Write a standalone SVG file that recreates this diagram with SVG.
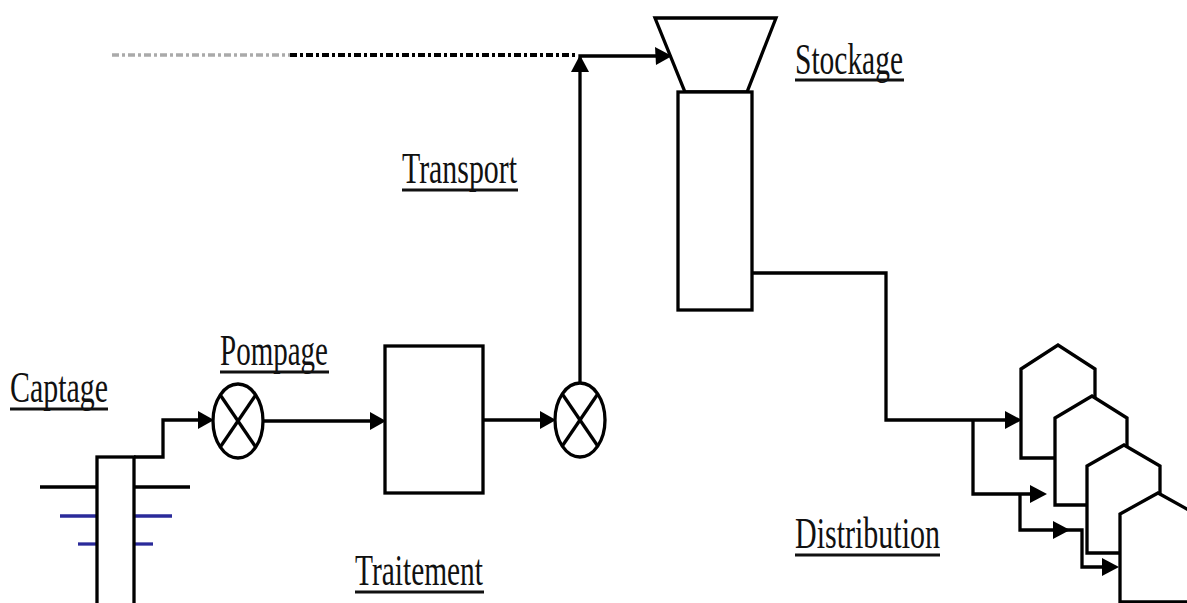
<svg xmlns="http://www.w3.org/2000/svg" width="1187" height="603" viewBox="0 0 1187 603">
<style>
.s{fill:none;stroke:#000;stroke-width:3.3;stroke-linejoin:miter}
.w{fill:#fff;stroke:#000;stroke-width:3.3}
.ah{fill:#000;stroke:none}
.t{font-family:"Liberation Serif","Times New Roman",serif;font-size:44px;fill:#111}
.u{stroke:#111;stroke-width:2.8}
.blue{stroke:#2a2a9a;stroke-width:3.3}
</style>
<rect width="1187" height="603" fill="#fff"/>

<g id="captage">
  <line class="s" x1="40" y1="487" x2="97" y2="487"/>
  <line class="s" x1="134" y1="487" x2="190" y2="487"/>
  <line class="blue" x1="60" y1="516" x2="97" y2="516"/>
  <line class="blue" x1="134" y1="516" x2="172" y2="516"/>
  <line class="blue" x1="78" y1="544" x2="97" y2="544"/>
  <line class="blue" x1="134" y1="544" x2="153" y2="544"/>
  <rect class="w" x="97" y="457" width="37" height="160"/>
  <text class="t" x="10" y="402" textLength="98" lengthAdjust="spacingAndGlyphs">Captage</text>
  <line class="u" x1="10" y1="409" x2="108" y2="409"/>
</g>

<g id="pompage">
  <ellipse class="w" cx="238" cy="421" rx="25" ry="37"/>
  <line class="s" x1="220.3" y1="395" x2="255.7" y2="447"/>
  <line class="s" x1="255.7" y1="395" x2="220.3" y2="447"/>
  <text class="t" x="220" y="365" textLength="108" lengthAdjust="spacingAndGlyphs">Pompage</text>
  <line class="u" x1="220" y1="372" x2="329" y2="372"/>
</g>

<g id="traitement">
  <rect class="w" x="385" y="346" width="98" height="147"/>
  <text class="t" x="355" y="585" textLength="128" lengthAdjust="spacingAndGlyphs">Traitement</text>
  <line class="u" x1="355" y1="592" x2="484" y2="592"/>
</g>

<g id="pompe2">
  <ellipse class="w" cx="580" cy="420" rx="25" ry="37"/>
  <line class="s" x1="562.3" y1="394" x2="597.7" y2="446"/>
  <line class="s" x1="597.7" y1="394" x2="562.3" y2="446"/>
</g>

<g id="transport">
  <text class="t" x="402" y="183" textLength="115" lengthAdjust="spacingAndGlyphs">Transport</text>
  <line class="u" x1="402" y1="190" x2="518" y2="190"/>
</g>

<g id="stockage">
  <polygon class="w" points="655,18 776,18 747,92 685,92"/>
  <rect class="w" x="678" y="92" width="74" height="218"/>
  <text class="t" x="795" y="74" textLength="108" lengthAdjust="spacingAndGlyphs">Stockage</text>
  <line class="u" x1="795" y1="80" x2="904" y2="80"/>
</g>

<g id="distribution">
  <polygon class="w" points="1021,458 1021,369 1058,345 1095,369 1095,458"/>
  <polygon class="w" points="1055,505 1055,418 1092,396 1127,418 1127,505"/>
  <polygon class="w" points="1087,553 1087,466 1124,445 1160,466 1160,553"/>
  <polygon class="w" points="1120,602 1120,514 1158,493 1196,514 1196,602"/>
  <text class="t" x="795" y="548" textLength="145" lengthAdjust="spacingAndGlyphs">Distribution</text>
  <line class="u" x1="795" y1="555" x2="940" y2="555"/>
</g>

<g id="connectors">
  <line x1="112" y1="55" x2="290" y2="55" stroke="#aaa" stroke-width="3.5" stroke-dasharray="7 3 3 3"/>
  <line x1="290" y1="55" x2="578" y2="55" stroke="#000" stroke-width="3.8" stroke-dasharray="7 3 3 3"/>
  <path class="s" d="M134,457 H163 V420 H200"/>
  <polygon class="ah" points="214,420 198,411 198,429"/>
  <path class="s" d="M263,421 H372"/>
  <polygon class="ah" points="386,421 370,412 370,430"/>
  <path class="s" d="M483,420 H542"/>
  <polygon class="ah" points="556,420 540,411 540,429"/>
  <path class="s" d="M580,383 V56 H658"/>
  <polygon class="ah" points="580,55 571,72 589,72"/>
  <polygon class="ah" points="672,56 655,47 656,65"/>
  <path class="s" d="M752,273 H886 V420 H1008"/>
  <polygon class="ah" points="1022,420 1005,411 1005,429"/>
  <path class="s" d="M973,420 V494 H1033"/>
  <polygon class="ah" points="1047,494 1030,485 1030,503"/>
  <path class="s" d="M1020,494 V530 H1082 V567 H1105"/>
  <polygon class="ah" points="1070,530 1053,521 1053,539"/>
  <polygon class="ah" points="1119,567 1102,558 1102,576"/>
</g>
</svg>
